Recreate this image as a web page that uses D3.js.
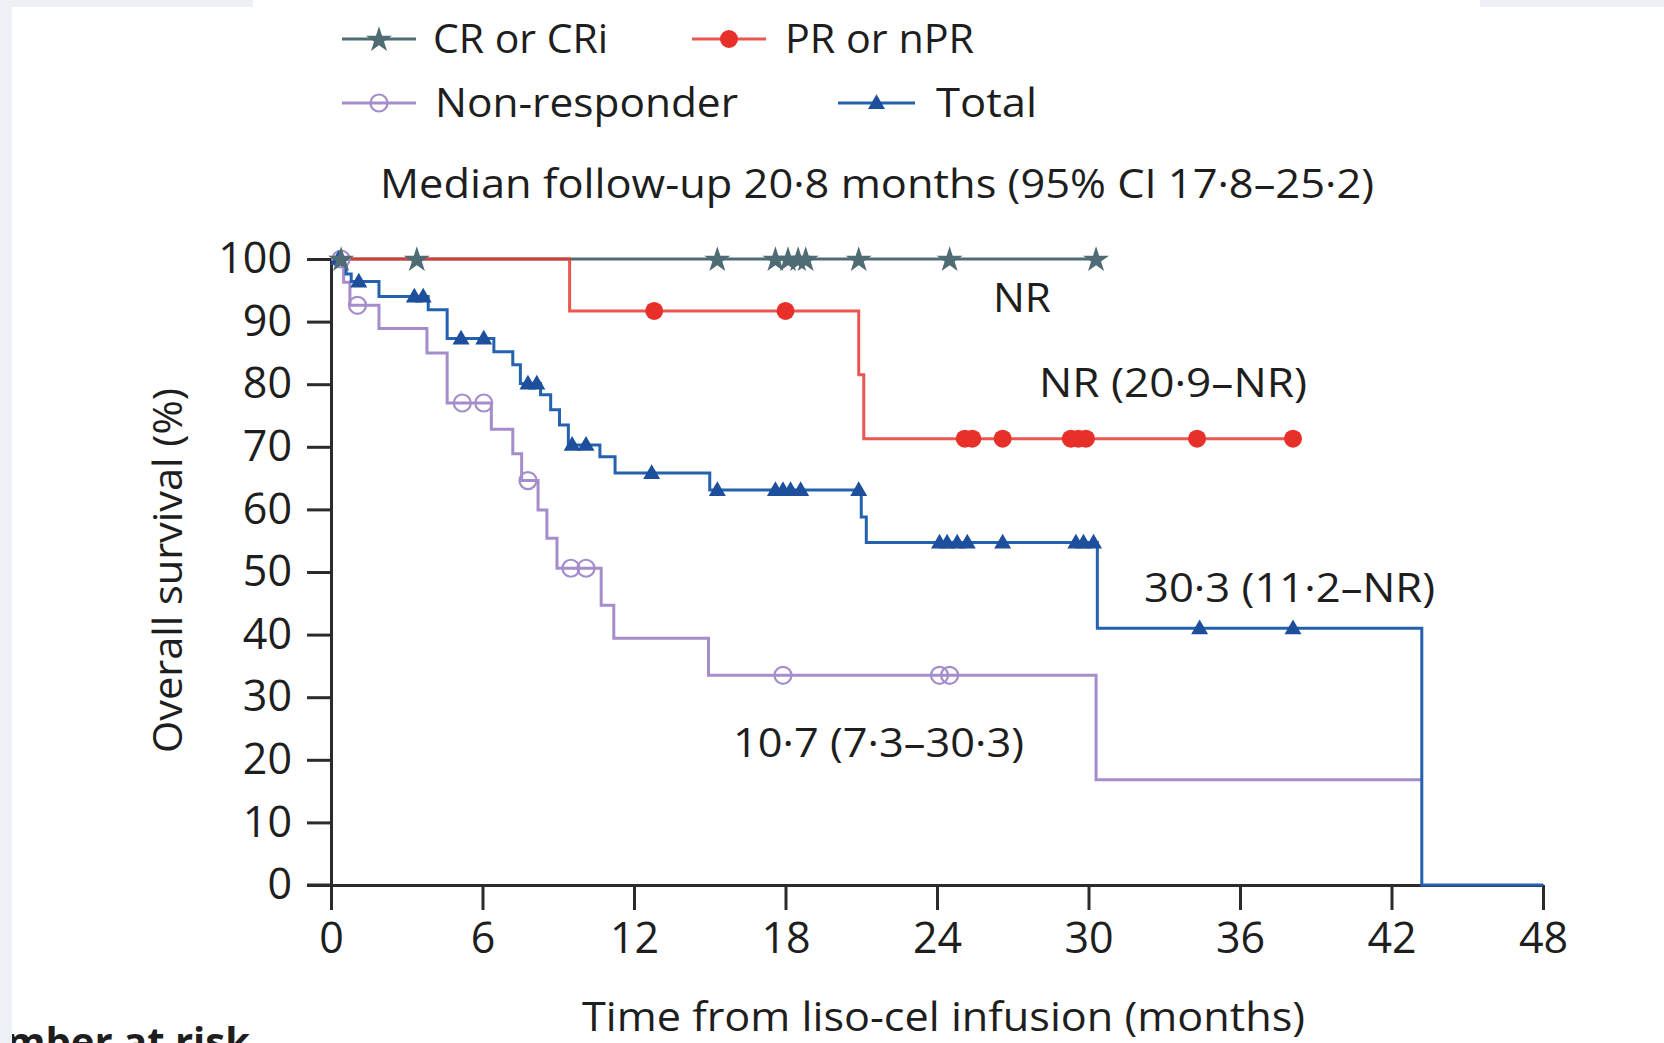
<!DOCTYPE html>
<html><head><meta charset="utf-8">
<script src="https://cdn.jsdelivr.net/npm/d3@7"></script>
<style>
html,body{margin:0;padding:0;background:#fff;}
svg{display:block;}
text{font-family:"Open Sans",sans-serif;fill:#1e1e1e;}
</style></head><body>
<svg id="chart" width="1664" height="1043"></svg>
<script>
// ---------- data ----------
const xTicks = [0, 6, 12, 18, 24, 30, 36, 42, 48];
const yTicks = [0, 10, 20, 30, 40, 50, 60, 70, 80, 90, 100];

const seriesNames = ["CR or CRi", "PR or nPR", "Non-responder", "Total"];

// CR or CRi
const crTime = [0];
const crSurv = [100];
const crEnd = 30.3;
const crCensor = [0.4, 3.4, 15.3, 17.6, 18.1, 18.5, 18.8, 20.9, 24.5, 30.3];

// PR or nPR
const prTime = [0, 9.45, 20.9, 21.1];
const prSurv = [100, 91.7, 81.5, 71.3];
const prEnd = 38.1;
const prCensor = [12.8, 18.0, 25.1, 25.4, 26.6, 29.3, 29.6, 29.9, 34.3, 38.1];

// Non-responder
const nrTime = [0, 0.5, 0.75, 1.9, 3.8, 4.6, 6.35, 7.2, 7.55, 8.2, 8.55, 8.95, 10.7, 11.2, 14.95, 30.3];
const nrSurv = [100, 96.3, 92.6, 88.9, 85.0, 77.0, 72.8, 68.9, 64.6, 59.9, 55.4, 50.6, 44.7, 39.4, 33.5, 16.8];
const nrEnd = 43.2;
const nrCensor = [0.4, 1.05, 5.2, 6.05, 7.8, 9.5, 10.1, 17.9, 24.1, 24.5];

// Total
const totTime = [0, 0.45, 0.6, 0.8, 1.9, 3.85, 4.6, 6.45, 7.2, 7.5, 8.3, 8.7, 9.05, 9.4, 10.65, 11.25, 15.0, 21.0, 21.2, 30.35, 43.2];
const totSurv = [100, 98.8, 97.6, 96.4, 94.0, 91.9, 87.3, 85.2, 83.1, 80.1, 78.3, 75.9, 73.5, 70.3, 68.4, 65.8, 63.1, 58.8, 54.7, 41.0, 0];
const totEnd = 48;
const totCensor = [0.3, 1.1, 3.3, 3.65, 5.15, 6.05, 7.8, 8.15, 9.55, 10.1, 12.7, 15.3, 17.6, 17.9, 18.2, 18.6, 20.9, 24.1, 24.4, 24.8, 25.2, 26.6, 29.5, 29.8, 30.2, 34.4, 38.1];

const annotations = ["NR", "NR (20·9–NR)", "30·3 (11·2–NR)", "10·7 (7·3–30·3)"];
const subtitle = "Median follow-up 20·8 months (95% CI 17·8–25·2)";
const xTitle = "Time from liso-cel infusion (months)";
const yTitle = "Overall survival (%)";
const footerLabel = "Number at risk";

// ---------- drawing ----------
const svg = d3.select("#chart");
const W = 1664, H = 1043;

svg.append("rect").attr("x", 0).attr("y", 0).attr("width", W).attr("height", H).attr("fill", "#fff");

// partially visible label cut by the bottom edge
svg.append("text").attr("x", 250).attr("y", 1056).attr("text-anchor", "end")
  .attr("font-size", 40).attr("font-weight", 700).text(footerLabel);

// page frame strips
svg.append("rect").attr("x", 0).attr("y", 0).attr("width", 12).attr("height", H).attr("fill", "#edf1f5");
svg.append("rect").attr("x", 0).attr("y", 0).attr("width", 253).attr("height", 7).attr("fill", "#edf1f5");
svg.append("rect").attr("x", 1480).attr("y", 0).attr("width", W - 1480).attr("height", 7).attr("fill", "#edf1f5");

const x = d3.scaleLinear().domain([0, 48]).range([331, 1543]);
const y = d3.scaleLinear().domain([0, 100]).range([885, 259]);

const FS = 40;
const TFS = 43;
const axisColor = "#2b2b2b";

// axes
const gy = svg.append("g").attr("transform", `translate(${x(0)},0)`)
  .call(d3.axisLeft(y).tickValues(yTicks).tickSize(24).tickSizeOuter(0).tickPadding(15));
const gx = svg.append("g").attr("transform", `translate(0,${y(0)})`)
  .call(d3.axisBottom(x).tickValues(xTicks).tickSize(25).tickSizeOuter(0).tickPadding(12));
[gx, gy].forEach(g => {
  g.selectAll("path.domain").attr("stroke", axisColor).attr("stroke-width", 3);
  g.selectAll(".tick line").attr("stroke", axisColor).attr("stroke-width", 3);
  g.selectAll(".tick text").attr("font-family", '"Open Sans",sans-serif').attr("font-size", TFS).attr("fill", "#1e1e1e");
});
svg.append("line").attr("x1", x(0) - 24).attr("x2", x(0)).attr("y1", y(0)).attr("y2", y(0))
  .attr("stroke", axisColor).attr("stroke-width", 3);

function survAt(times, surv, t) {
  let v = surv[0];
  for (let i = 0; i < times.length; i++) if (times[i] <= t) v = surv[i];
  return v;
}
const stepLine = d3.line().x(d => x(d[0])).y(d => y(d[1])).curve(d3.curveStepAfter);
function pts(times, surv, end) {
  const p = times.map((t, i) => [t, surv[i]]);
  p.push([end, surv[surv.length - 1]]);
  return p;
}

const colCR = "#4f6b74", colPR = "#e8302a", colPRline = "#e63a33", colNR = "#a58ccb", colTot = "#2462b0", colTotMark = "#1d4f9c";

// lines
svg.append("path").attr("d", stepLine(pts(nrTime, nrSurv, nrEnd))).attr("fill", "none").attr("stroke", colNR).attr("stroke-width", 3);
svg.append("path").attr("d", stepLine(pts(totTime, totSurv, totEnd))).attr("fill", "none").attr("stroke", colTot).attr("stroke-width", 3);
svg.append("path").attr("d", stepLine(pts(crTime, crSurv, crEnd))).attr("fill", "none").attr("stroke", colCR).attr("stroke-width", 3);
svg.append("path").attr("d", stepLine(pts(prTime, prSurv, prEnd))).attr("fill", "none").attr("stroke", colPRline).attr("stroke-width", 3).attr("stroke-opacity", 0.85);

// markers
const star = d3.symbol(d3.symbolStar, 210);
const tri = d3.symbol(d3.symbolTriangle, 125);
function drawStar(g, cx, cy) { g.append("path").attr("d", star()).attr("transform", `translate(${cx},${cy + 1})`).attr("fill", colCR); }
function drawDot(g, cx, cy) { g.append("circle").attr("cx", cx).attr("cy", cy).attr("r", 9).attr("fill", colPR); }
function drawRing(g, cx, cy) { g.append("circle").attr("cx", cx).attr("cy", cy).attr("r", 8.5).attr("fill", "none").attr("stroke", colNR).attr("stroke-width", 2.2); }
function drawTri(g, cx, cy) { g.append("path").attr("d", tri()).attr("transform", `translate(${cx},${cy + 1})`).attr("fill", colTotMark); }

const gm = svg.append("g");
nrCensor.forEach(t => drawRing(gm, x(t), y(survAt(nrTime, nrSurv, t))));
totCensor.forEach(t => drawTri(gm, x(t), y(survAt(totTime, totSurv, t))));
crCensor.forEach(t => drawStar(gm, x(t), y(survAt(crTime, crSurv, t))));
prCensor.forEach(t => drawDot(gm, x(t), y(survAt(prTime, prSurv, t))));

// legend
const lg = svg.append("g");
const legendSpec = [
  { lx1: 342, lx2: 416, cy: 39, tx: 433, tl: 175, col: colCR, draw: drawStar },
  { lx1: 692, lx2: 766, cy: 39, tx: 785, tl: 189, col: colPRline, draw: drawDot },
  { lx1: 342, lx2: 416, cy: 103, tx: 435, tl: 303, col: colNR, draw: drawRing },
  { lx1: 838, lx2: 915, cy: 103, tx: 936, tl: 101, col: colTot, draw: drawTri }
];
legendSpec.forEach((s, i) => {
  lg.append("line").attr("x1", s.lx1).attr("x2", s.lx2).attr("y1", s.cy).attr("y2", s.cy)
    .attr("stroke", s.col).attr("stroke-width", 3).attr("stroke-opacity", i === 1 ? 0.85 : 1);
  s.draw(lg, (s.lx1 + s.lx2) / 2, s.cy);
  lg.append("text").attr("x", s.tx).attr("y", s.cy + 14).attr("font-size", FS)
    .attr("textLength", s.tl).attr("lengthAdjust", "spacingAndGlyphs").text(seriesNames[i]);
});

// subtitle
svg.append("text").attr("x", 380).attr("y", 198).attr("font-size", FS)
  .attr("textLength", 994).attr("lengthAdjust", "spacingAndGlyphs").text(subtitle);

// annotations
const annSpec = [
  { x: 993, y: 312, tl: 58 },
  { x: 1039, y: 397, tl: 268 },
  { x: 1144, y: 602, tl: 291 },
  { x: 733, y: 757, tl: 291 }
];
annSpec.forEach((a, i) => {
  svg.append("text").attr("x", a.x).attr("y", a.y).attr("font-size", FS)
    .attr("textLength", a.tl).attr("lengthAdjust", "spacingAndGlyphs").text(annotations[i]);
});

// axis titles
svg.append("text").attr("x", 582).attr("y", 1031).attr("font-size", FS)
  .attr("textLength", 723).attr("lengthAdjust", "spacingAndGlyphs").text(xTitle);
svg.append("text").attr("transform", "translate(182,753) rotate(-90)").attr("font-size", FS)
  .attr("textLength", 365).attr("lengthAdjust", "spacingAndGlyphs").text(yTitle);
</script>
</body></html>
